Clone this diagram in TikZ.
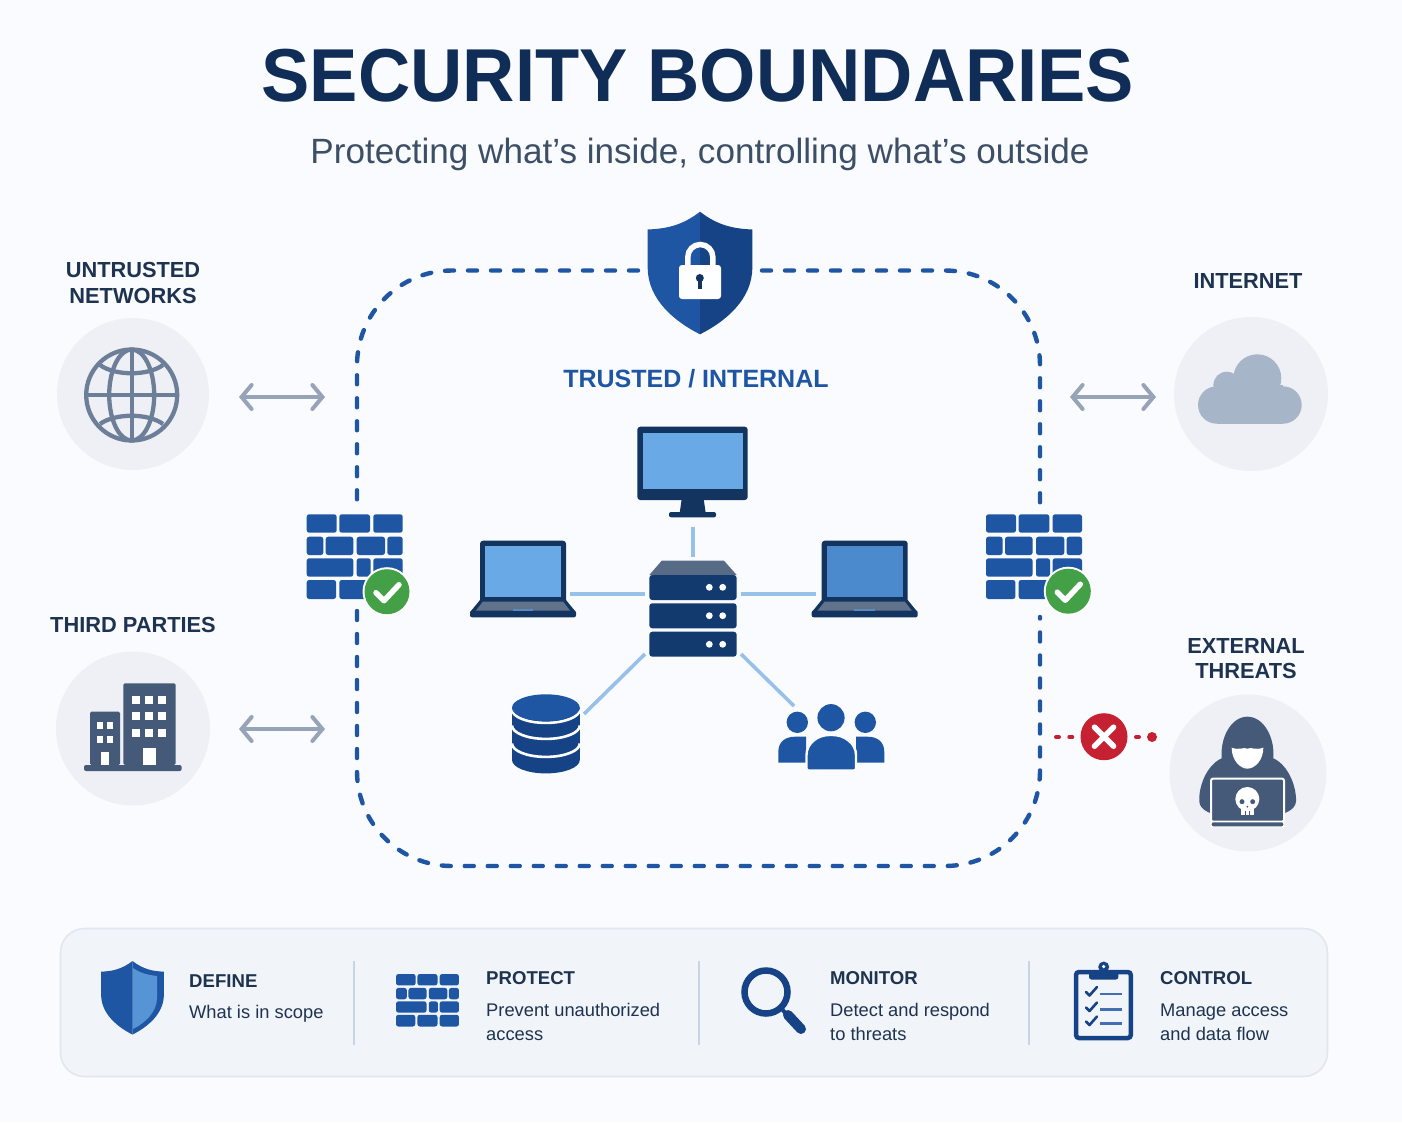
\documentclass[tikz,border=0pt]{standalone}
\usepackage{fontspec}
\setmainfont{Liberation Sans}
\newfontfamily\headingfont[FakeStretch=.965]{Liberation Sans}
\usetikzlibrary{arrows.meta,calc}

\definecolor{pagebg}{HTML}{F9FBFE}
\definecolor{titleink}{HTML}{0F2D57}
\definecolor{subink}{HTML}{3D4F66}
\definecolor{labelink}{HTML}{1E3350}
\definecolor{bluemain}{HTML}{1F56A4}
\definecolor{bluedark}{HTML}{164386}
\definecolor{navy}{HTML}{123A6E}
\definecolor{navydeep}{HTML}{12345F}
\definecolor{screenblue}{HTML}{69A9E6}
\definecolor{screenblue2}{HTML}{4A8ACD}
\definecolor{lightlink}{HTML}{98C1EA}
\definecolor{discbg}{HTML}{EEF0F5}
\definecolor{slateicon}{HTML}{455A78}
\definecolor{globeink}{HTML}{6D7F98}
\definecolor{cloudfill}{HTML}{A7B5C8}
\definecolor{arrowgrey}{HTML}{97A4B8}
\definecolor{okgreen}{HTML}{43A047}
\definecolor{denyred}{HTML}{C62033}
\definecolor{panelbg}{HTML}{F1F4F9}
\definecolor{panelline}{HTML}{E2E7EF}
\definecolor{divider}{HTML}{C8D4E2}

\newcommand\fsize[1]{\fontsize{#1}{#1}\selectfont}

\tikzset{
  iconbox/.style 2 args={inner sep=0pt,outer sep=0pt,minimum width=#1pt,minimum height=#2pt},
  disc/.style={circle,fill=discbg,inner sep=0pt,outer sep=0pt,minimum size=#1pt},
  zonelabel/.style={font=\bfseries\fsize{21.8},text=labelink,align=center,inner sep=0pt},
  boundary/.style={draw=bluemain,line width=4.4pt,line cap=round,dash pattern=on 9pt off 14pt,rounded corners=95pt},
  netlink/.style={draw=lightlink,line width=3.6pt},
  crossing/.style={draw=arrowgrey,line width=4pt,{Straight Barb[length=10pt,width=24pt,line cap=round]}-{Straight Barb[length=10pt,width=24pt,line cap=round]}},
  threat/.style={draw=denyred,line width=4pt,line cap=round,dash pattern=on 3pt off 10.3pt},
  cardhead/.style={anchor=base west,inner sep=0pt,font=\bfseries\fsize{18.6},text=labelink},
  cardtext/.style={anchor=base west,inner sep=0pt,font=\fsize{18.3},text=labelink},
  zoomed/.style={x=.33333pt,y=-.33333pt}
}

% one rounded brick given by its corners
\newcommand\brick[4]{\fill[bluemain,rounded corners=2.5pt] (#1,#2) rectangle (#3,#4);}
% brick wall, 96 wide and 85 high, from its top left corner
\newcommand\brickwall{%
  \brick{0}{0}{30}{18.4}\brick{32.6}{0}{63.3}{18.4}\brick{66.6}{0}{96}{18.4}
  \brick{0}{22.4}{16.6}{40.7}\brick{19}{22.4}{46.6}{40.7}\brick{50}{22.4}{78.3}{40.7}\brick{80.6}{22.4}{96}{40.7}
  \brick{0}{44}{46.6}{62.4}\brick{50}{44}{64}{62.4}\brick{66.6}{44}{96}{62.4}
  \brick{0}{65.7}{29.4}{84.7}\brick{32.6}{65.7}{63.3}{84.7}\brick{66.6}{65.7}{96}{84.7}
}
% half a shield, from the top point; second argument 1 or -1 picks the side
\newcommand\shieldhalf[2]{\fill[#1,xscale=#2] (0,0) .. controls (-18,14) and (-34,17) .. (-52.3,17.8) -- (-52.3,56) .. controls (-52.3,88) and (-25,110) .. (0,122.6) -- cycle;}
% laptop, drawn from pixel positions of the left-hand one
\newcommand\laptopicon[1]{%
  \fill[navydeep,rounded corners=3pt] (480,540.7) rectangle (566,606);
  \fill[#1] (485.3,546) rectangle (561.3,596.7);
  \fill[navydeep] (480,600) -- (566,600) -- (575,611) -- (471,611) -- cycle;
  \fill[navydeep,rounded corners=2pt] (470,610.5) rectangle (576,617.3);
  \fill[slateicon!85!white] (483,601.5) -- (563,601.5) -- (570,610.5) -- (476,610.5) -- cycle;
  \fill[screenblue!60!slateicon] (512.7,609) rectangle (533.3,611);
}
\newcommand\okbadge[1]{%
  \fill[white] (#1) circle[radius=24.5pt];
  \fill[okgreen] (#1) circle[radius=22.5pt];
  \draw[white,line width=5.5pt,line cap=round,line join=round] ($(#1)+(-11,1)$) -- ($(#1)+(-3,9)$) -- ($(#1)+(12,-7)$);
}
\newcommand\serverunit[2]{%
  \fill[navy,rounded corners=3pt] (649.3,#1) rectangle (736.7,#1+25);
  \fill[white] (709.3,#2) circle[radius=3.4pt] (722.7,#2) circle[radius=3.4pt];
}

\begin{document}
\begin{tikzpicture}[x=1pt,y=-1pt]
\path[use as bounding box,fill=pagebg] (0,0) rectangle (1402,1122);

% heading
\node[inner sep=0pt,anchor=base,font={\headingfont\bfseries\fsize{75}},text=titleink] (heading) at (698,101.5) {SECURITY BOUNDARIES};
\node[inner sep=0pt,anchor=base,font=\fsize{35.1},text=subink] (subheading) at (700,163) {Protecting what’s inside, controlling what’s outside};

% invisible boxes that fix where the connectors stop
\node[iconbox={124}{122}] (shieldbox) at (700,270.5) {};
\node[iconbox={100}{106}] (fwL) at (357,558) {};
\node[iconbox={100}{112}] (fwR) at (1040,561) {};
\node[iconbox={96}{104}] (server) at (693,609) {};
\node[iconbox={110}{95}] (monitor) at (693,474) {};
\node[iconbox={100}{76}] (laptopL) at (520,579) {};
\node[iconbox={100}{76}] (laptopR) at (866,579) {};
\node[iconbox={80}{80}] (database) at (544,734) {};
\node[iconbox={110}{64}] (people) at (831,738) {};

% perimeter of the trusted zone
\coordinate (cornerTL) at (357,270.5);
\coordinate (cornerTR) at (1040,270.5);
\coordinate (cornerBL) at (357,866);
\coordinate (cornerBR) at (1040,866);
\draw[boundary] (shieldbox.west) -- (cornerTL) -- (fwL.north);
\draw[boundary] (shieldbox.east) -- (cornerTR) -- (fwR.north);
\draw[boundary] (fwL.south) -- (cornerBL) -- (cornerBR) -- (fwR.south);

% shield with padlock
\begin{scope}[shift={(700,211.7)}]
  \shieldhalf{bluemain}{1}
  \shieldhalf{bluedark}{-1}
\end{scope}
\draw[white,line width=5.5pt] (687.8,268) -- (687.8,257) arc[start angle=180,end angle=0,radius=12.5pt] -- (712.8,268);
\fill[white,rounded corners=3pt] (679,265) rectangle (721,299);
\fill[navydeep] (699.8,278) circle[radius=4pt];
\fill[navydeep] (697.6,279) rectangle (702,289);

\node[inner sep=0pt,anchor=base,font=\bfseries\fsize{25},text=bluemain] (trusted) at (696,387) {TRUSTED / INTERNAL};

% internal network links
\draw[netlink] ([yshift=-5pt]monitor.south) -- (server.north);
\draw[netlink] ([yshift=15pt]server.west) -- ([yshift=-15pt]laptopL.east);
\draw[netlink] ([yshift=15pt]server.east) -- ([yshift=-15pt]laptopR.west);
\draw[netlink] ([yshift=-45pt]server.west) -- ([yshift=20pt]database.east);
\draw[netlink] ([yshift=-45pt]server.east) -- ([xshift=-37pt]people.north);

% desktop monitor
\fill[navydeep,rounded corners=3pt] (637.3,426.7) rectangle (747.7,500);
\fill[screenblue] (642.7,432.7) rectangle (742.7,489.3);
\fill[navydeep] (681.7,499) -- (703.7,499) -- (705.7,513) -- (679.7,513) -- cycle;
\fill[navydeep,rounded corners=2pt] (669,512) rectangle (716,517.3);

% laptops
\laptopicon{screenblue}
\begin{scope}[xshift=341.7pt]
  \laptopicon{screenblue2}
\end{scope}

% rack server
\fill[slateicon!90!white] (661.7,560.7) -- (724,560.7) -- (736.7,575) -- (649.3,575) -- cycle;
\serverunit{575}{587.3}
\serverunit{603.3}{615.7}
\serverunit{631.7}{644.3}

% database cylinder
\fill[bluedark] (512,708) -- (512,760) arc[start angle=180,end angle=360,x radius=33.9pt,y radius=13.4pt] -- (579.8,708) -- cycle;
\foreach \ringy in {709.5,725.5,743.5}
  \draw[white,line width=2.6pt] (512,\ringy) arc[start angle=180,end angle=360,x radius=33.9pt,y radius=13.4pt];
\fill[bluemain] (545.9,707.7) ellipse[x radius=33.9pt,y radius=13.4pt];

% group of people
\fill[bluemain] (797.3,722.3) circle[radius=10.7pt] (865.3,722.3) circle[radius=10.7pt] (831,717.7) circle[radius=13.6pt];
\fill[bluemain] (778.3,762.7) -- (778.3,752) .. controls (778.3,742) and (785,736.7) .. (795,736.7) -- (806,736.7) -- (806,762.7) -- cycle;
\fill[bluemain] (884.3,762.7) -- (884.3,752) .. controls (884.3,742) and (877.6,736.7) .. (867.6,736.7) -- (856,736.7) -- (856,762.7) -- cycle;
\draw[pagebg,line width=2.4pt,fill=bluemain,rounded corners=2pt] (806.5,770.5) -- (806.5,757) .. controls (806.5,743) and (818,735) .. (831,735) .. controls (844,735) and (856,743) .. (856,757) -- (856,770.5) -- cycle;

% firewalls on the perimeter
\begin{scope}[shift={(306.7,514.3)}]
  \brickwall
\end{scope}
\begin{scope}[shift={(986,514.3)}]
  \brickwall
\end{scope}
\coordinate (checkL) at (387,591.7);
\coordinate (checkR) at (1068.3,591.2);
\okbadge{checkL}
\okbadge{checkR}

% outside zones
\node[disc=152] (untrusted) at (133,394) {};
\node[disc=154] (internet) at (1251,394) {};
\node[disc=154] (third) at (133,728.5) {};
\node[disc=157] (threats) at (1248,773) {};

\node[zonelabel] (lblUntrusted) at (133,283) {UNTRUSTED\\[4pt]NETWORKS};
\node[zonelabel] (lblInternet) at (1248,281) {INTERNET};
\node[zonelabel] (lblThird) at (133,625) {THIRD PARTIES};
\node[zonelabel] (lblThreats) at (1246,658.5) {EXTERNAL\\[4pt]THREATS};

% globe
\begin{scope}[globeink,line width=4.3pt]
  \draw (131.7,395) circle[radius=45.5pt];
  \draw (131.7,395) ellipse[x radius=22.5pt,y radius=45.5pt];
  \draw (131.7,349.5) -- (131.7,440.5);
  \draw (86.2,395) -- (177.2,395);
  \draw (100,365) .. controls (115,376) and (148,376) .. (163,365);
  \draw (100,424) .. controls (115,413) and (148,413) .. (163,424);
\end{scope}

% cloud
\fill[cloudfill] (1257.3,378.3) circle[radius=24pt] (1226.7,385) circle[radius=13.3pt];
\fill[cloudfill] (1216.7,405) circle[radius=18.7pt] (1283,405) circle[radius=18.7pt];
\fill[cloudfill] (1216.7,385) rectangle (1283,423.7);

% two-way traffic arrows
\coordinate (arrowUa) at (239,397);
\coordinate (arrowUb) at (325,397);
\coordinate (arrowTa) at (239,729);
\coordinate (arrowTb) at (325,729);
\coordinate (arrowIa) at (1070,397);
\coordinate (arrowIb) at (1156,397);
\draw[crossing] (arrowUa) -- (arrowUb);
\draw[crossing] (arrowTa) -- (arrowTb);
\draw[crossing] (arrowIa) -- (arrowIb);

% blocked traffic
\node[circle,fill=denyred,inner sep=0pt,outer sep=0pt,minimum size=47pt] (blocked) at (1104,736.7) {};
\coordinate (threatFrom) at (1056,737);
\coordinate (threatTo) at (1152,737);
\draw[white,line width=5.6pt,line cap=round] ($(blocked)+(-9.5,-9.5)$) -- ($(blocked)+(9.5,9.5)$);
\draw[white,line width=5.6pt,line cap=round] ($(blocked)+(-9.5,9.5)$) -- ($(blocked)+(9.5,-9.5)$);
\draw[threat] (threatFrom) -- (1075,737);
\draw[threat] (1136,737) -- (1139,737);
\fill[denyred] (threatTo) circle[radius=5pt];

% office buildings
\begin{scope}[shift={(40,640)},zoomed]
  \fill[slateicon,rounded corners=1.5pt] (250,375) -- (250,130) -- (407,130) -- (407,375) -- cycle;
  \fill[slateicon,rounded corners=1.5pt] (150,375) -- (150,215) -- (240,215) -- (240,375) -- cycle;
  \fill[slateicon,rounded corners=2pt] (132,375) rectangle (425,393);
  \foreach \wx in {275,315,355} \foreach \wy in {167,217,267}
    \fill[white] (\wx,\wy) rectangle (\wx+24,\wy+24);
  \foreach \wx in {170,202} \foreach \wy in {247,287}
    \fill[white] (\wx,\wy) rectangle (\wx+18,\wy+21);
  \fill[white] (184,337) rectangle (208,374);
  \fill[white] (309,323) rectangle (347,374);
\end{scope}

% hooded attacker
\begin{scope}[shift={(1040,680)},zoomed]
  \fill[slateicon] (622,110) .. controls (575,110) and (540,170) .. (545,235) .. controls (500,255) and (475,320) .. (478,365) .. controls (480,390) and (510,400) .. (530,405) -- (715,405) .. controls (735,400) and (765,390) .. (768,365) .. controls (770,320) and (745,255) .. (700,235) .. controls (705,170) and (670,110) .. (622,110) -- cycle;
  \fill[white] (575,203) .. controls (600,212) and (610,200) .. (622,206) .. controls (635,200) and (645,212) .. (670,203) .. controls (670,240) and (645,266) .. (622,266) .. controls (600,266) and (575,240) .. (575,203) -- cycle;
  \draw[white,line width=2pt,fill=slateicon,rounded corners=2pt] (513,296) rectangle (732,425);
  \draw[white,line width=1.3pt,fill=slateicon,rounded corners=2pt] (513,425) rectangle (732,441);
  \fill[white] (622,357) circle[radius=12pt];
  \fill[white] (603,375) rectangle (642,405);
  \fill[slateicon] (606,365) circle[radius=2.5pt] (638,365) circle[radius=2.5pt] (622,380) circle[radius=1pt];
  \draw[slateicon,line width=.8pt] (615,392) -- (615,405) (629,392) -- (629,405);
\end{scope}

% legend panel
\node[draw=panelline,line width=1.6pt,fill=panelbg,rounded corners=24pt,inner sep=0pt,minimum width=1267pt,minimum height=148pt] (panel) at (694,1002.5) {};
\foreach \dvx in {354,699,1029}
  \draw[divider,line width=1.4pt] (\dvx,961) -- (\dvx,1045);

% legend: define
\begin{scope}[shift={(132.5,961)},scale=.6]
  \shieldhalf{bluemain}{1}
  \shieldhalf{bluemain}{-1}
\end{scope}
\fill[screenblue!75!bluemain] (133,968) .. controls (140,973) and (148,975) .. (157,976) -- (157,998) .. controls (157,1012) and (145,1023) .. (133,1029) -- cycle;
\node[cardhead] (defHead) at (189,987) {DEFINE};
\node[cardtext] (defText) at (189,1018) {What is in scope};

% legend: protect
\begin{scope}[shift={(396,974)},xscale=.656,yscale=.62]
  \brickwall
\end{scope}
\node[cardhead] (proHead) at (486,984.5) {PROTECT};
\node[cardtext] (proText) at (486,1016) {Prevent unauthorized};
\node[cardtext] (proTextB) at (486,1040) {access};

% legend: monitor
\draw[bluedark,line width=6.5pt] (766,992) circle[radius=21.5pt];
\draw[bluedark,line width=4pt] (781,1008) -- (788,1016);
\draw[bluedark,line width=10pt,line cap=round] (788,1015) -- (801,1029);
\node[cardhead] (monHead) at (830,984.5) {MONITOR};
\node[cardtext] (monText) at (830,1016) {Detect and respond};
\node[cardtext] (monTextB) at (830,1040) {to threats};

% legend: control
\draw[bluedark,line width=4.5pt,fill=panelbg,rounded corners=3pt] (1076,972) rectangle (1130.8,1038);
\fill[bluedark,rounded corners=2.5pt] (1089,971) rectangle (1118.4,979.5);
\fill[bluedark] (1103.7,967) circle[radius=5.5pt];
\fill[white] (1103.7,966.5) circle[radius=1.8pt];
\foreach \rowy in {992,1007.5,1021.5} {
  \draw[bluedark,line width=2.6pt,line cap=round,line join=round] (1086,\rowy) -- (1089.5,\rowy+3.5) -- (1097,\rowy-5);
  \draw[bluemain!85!white,line width=2.8pt] (1100,\rowy+2) -- (1122,\rowy+2);
}
\node[cardhead] (conHead) at (1160,984.5) {CONTROL};
\node[cardtext] (conText) at (1160,1016) {Manage access};
\node[cardtext] (conTextB) at (1160,1040) {and data flow};
\end{tikzpicture}
\end{document}
